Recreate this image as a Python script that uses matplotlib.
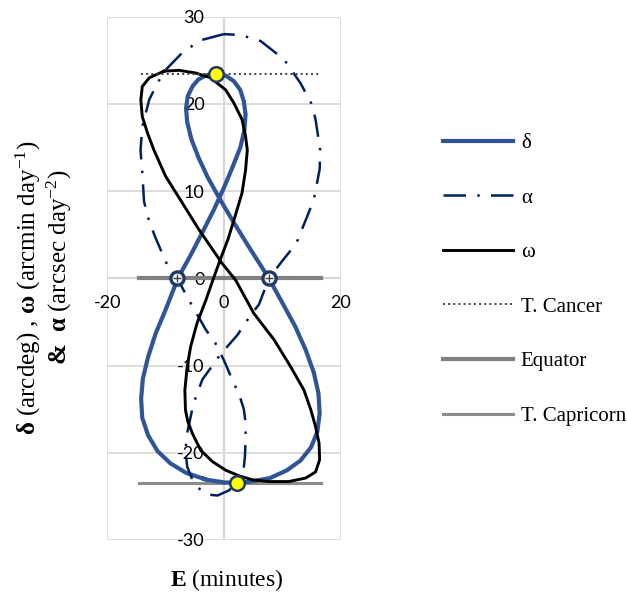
import numpy as np
import matplotlib.pyplot as plt

# analemma: equation of time E (min) vs declination delta (deg), ~weekly through the year
E_delta = [-3.4, -6.5, -9.2, -11.4, -13.0, -14.0, -14.2, -13.9, -13.0, -11.7, -10.0, -7.9,
           -5.6, -3.6, -1.7, 0.0, 1.5, 2.8, 3.5, 3.7, 3.4, 2.8, 1.7, 0.4, -1.4,
           -3.0, -4.4, -5.4, -6.2, -6.5, -6.3, -5.6, -4.4, -2.8, -0.8, 1.5, 3.9, 7.7,
           10.0, 12.2, 14.0, 15.4, 16.2, 16.4, 16.0, 14.9, 13.1, 10.8, 7.9, 4.6, 2.2,
           0.1, -2.9, -3.4]
delta = [-23.0, -22.3, -21.2, -19.8, -18.0, -16.0, -13.8, -11.5, -9.0, -6.3, -3.6, 0.0,
         2.8, 5.4, 7.9, 10.4, 12.8, 15.0, 17.0, 18.8, 20.3, 21.6, 22.6, 23.2, 23.44,
         23.3, 22.8, 22.0, 20.9, 19.5, 17.9, 16.0, 13.9, 11.6, 9.2, 6.6, 4.0, 0.0,
         -2.8, -5.5, -8.2, -10.8, -13.2, -15.5, -17.6, -19.4, -20.9, -22.0, -22.9, -23.3, -23.44,
         -23.4, -23.1, -23.0]

# alpha (arcsec day^-2) vs E
E_alpha = [0.0, -4.0, -7.1, -10.0, -11.4, -12.8, -14.0, -14.3, -14.0, -13.7, -12.8, -11.7,
           -9.7, -8.0, -6.0, -3.1, -1.5, 0.0, 1.4, 2.65, 3.4, 3.7, 3.7, 3.6, 3.4, 2.9,
           0.9, -1.1, -2.6, -4.0, -5.4, -6.3, -6.6, -6.3, -5.2, -3.7, -2.3, -0.6, 0.6,
           2.3, 4.6, 6.0, 7.7, 10.0, 12.4, 13.9, 15.4, 16.4, 16.5, 15.7, 15.1, 13.1,
           10.3, 6.3, 2.9, 0.0]
alpha = [28.0, 27.3, 25.9, 23.9, 22.4, 20.5, 17.4, 14.7, 12.1, 8.8, 6.5, 4.6,
         1.5, 0.0, -2.5, -5.9, -7.4, -9.4, -11.6, -13.4, -15.0, -16.5, -18.5, -20.4, -21.7, -22.7,
         -24.3, -24.9, -24.8, -24.3, -23.1, -21.6, -19.7, -17.7, -14.3, -11.6, -10.3, -8.7, -7.8,
         -6.5, -4.2, -3.0, 0.0, 2.0, 4.0, 6.5, 9.0, 12.5, 14.7, 18.2, 19.9, 22.4,
         25.1, 27.2, 27.9, 28.0]

# omega (arcmin day^-1) vs E
E_omega = [-10.3, -7.7, -4.9, -2.3, 0.3, 1.7, 3.1, 3.7, 4.0, 3.7, 3.1, 1.9, 0.7, -0.6,
           -1.8, -3.1, -4.6, -5.7, -6.3, -6.7, -6.6, -6.2, -5.4, -4.0, -2.0, 0.3, 2.6,
           4.9, 7.7, 11.1, 14.0, 15.7, 16.4, 16.3, 15.7, 14.9, 13.7, 11.4, 8.6, 5.1,
           2.0, -0.3, -2.3, -4.3, -7.1, -10.0, -12.0, -13.1, -14.0, -14.25, -14.0, -12.8, -10.3]
omega = [23.75, 23.85, 23.55, 23.0, 21.6, 20.1, 18.2, 16.3, 14.7, 12.4, 9.8, 7.1, 4.5, 2.2,
         0.0, -2.5, -5.1, -7.8, -10.1, -12.8, -15.1, -16.4, -17.8, -19.7, -21.0, -22.0, -22.65,
         -23.1, -23.3, -23.3, -22.9, -22.2, -20.8, -18.9, -17.0, -15.1, -12.8, -10.1, -7.05, -4.0,
         -0.2, 1.7, 3.65, 5.6, 8.6, 11.7, 14.7, 16.65, 18.55, 20.45, 22.0, 23.0, 23.75]

tropic = 23.44
line_E = [-14.5, 16.6]
cancer_E = [-14.3, 16.3]
solstice_E = [-1.4, 2.2]
solstice_y = [23.44, -23.44]
equinox_E = [-8.0, 7.7]
equinox_y = [0, 0]

x_ticks = [-20, 0, 20]
y_ticks = [-30, -20, -10, 0, 10, 20, 30]

plt.rcParams['axes.unicode_minus'] = False
plt.rcParams['mathtext.fontset'] = 'custom'
plt.rcParams['mathtext.rm'] = 'Liberation Serif'
plt.rcParams['mathtext.it'] = 'Liberation Serif:italic'
plt.rcParams['mathtext.bf'] = 'Liberation Serif:bold'

fig = plt.figure(figsize=(6.27, 5.98), dpi=100)
ax = fig.add_axes([0.1711, 0.0970, 0.3722, 0.8751])

blue = '#2F5597'
navy = '#002060'

ax.plot(E_delta, delta, color=blue, lw=3.0, label='δ', zorder=3, solid_joinstyle='round')
ax.plot(E_alpha, alpha, color=navy, lw=1.8, dashes=(9, 4.5, 1, 4.5), label='α', zorder=3)
ax.plot(E_omega, omega, color='black', lw=2.1, label='ω', zorder=4, solid_joinstyle='round')
ax.plot(cancer_E, [tropic, tropic], color='#404040', lw=1.4, ls=':', label='T. Cancer', zorder=5)
ax.plot(line_E, [0, 0], color='#808080', lw=3.0, label='Equator', zorder=2)
ax.plot(line_E, [-tropic, -tropic], color='#8C8C8C', lw=2.2, label='T. Capricorn', zorder=2)

ax.plot(solstice_E, solstice_y, ls='none', marker='o', ms=10.5, mfc='#FFFF00',
        mec='#1F3864', mew=1.8, zorder=6)
ax.plot(equinox_E, equinox_y, ls='none', marker='o', ms=9.5, mfc='white',
        mec='#1F3864', mew=2.4, zorder=6)
ax.plot(equinox_E, equinox_y, ls='none', marker='+', ms=6, mec='#404040',
        mew=1.0, zorder=7)

ax.set_xlim(-20, 20)
ax.set_ylim(-30, 30)
ax.set_xticks(x_ticks)
ax.set_yticks(y_ticks)
ax.grid(True, color='#D9D9D9', lw=1.3, zorder=0)
ax.axvline(0, color='#BFBFBF', lw=1.5, zorder=1)
ax.axhline(0, color='#BFBFBF', lw=1.5, zorder=1)

for s in ['top', 'right']:
    ax.spines[s].set_visible(False)
ax.spines['left'].set_position(('data', 0))
ax.spines['bottom'].set_position(('data', 0))
ax.spines['left'].set_color('none')
ax.spines['bottom'].set_color('none')
ax.tick_params(axis='both', length=0, labelsize=13, colors='black')
ax.tick_params(axis='x', pad=12)
ax.tick_params(axis='y', pad=14)
for lab in ax.get_xticklabels() + ax.get_yticklabels():
    lab.set_fontfamily('Lato')
    lab.set_zorder(8)

fig.text(0.362, 0.030, r'$\mathbf{E}$ (minutes)', ha='center', va='center', fontsize=17,
         family='Liberation Serif')
fig.text(0.046, 0.518, r'$\mathbf{δ}$ (arcdeg) , $\mathbf{ω}$ (arcmin day$^{-1}$)',
         rotation=90, ha='center', va='center', fontsize=18, family='Liberation Serif')
fig.text(0.094, 0.553, r'$\mathbf{&}$  $\mathbf{α}$ (arcsec day$^{-2}$)',
         rotation=90, ha='center', va='center', fontsize=18, family='Liberation Serif')

fig.legend(loc='upper left', bbox_to_anchor=(0.706, 0.777), frameon=False,
           prop={'family': 'Liberation Serif', 'size': 15}, handlelength=3.4,
           handletextpad=0.35, labelspacing=1.68, borderpad=0, borderaxespad=0)

fig.savefig('out.png', dpi=100)
